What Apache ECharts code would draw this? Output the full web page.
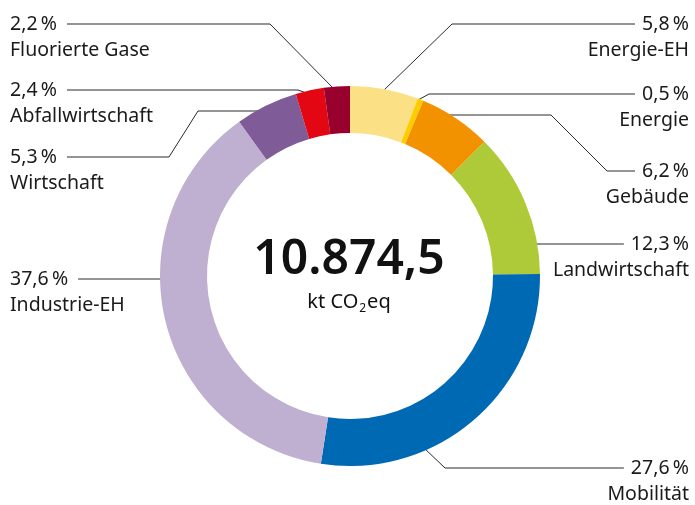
<!DOCTYPE html>
<html><head><meta charset="utf-8">
<script src="https://cdn.jsdelivr.net/npm/echarts@6/dist/echarts.min.js"></script>
<style>html,body{margin:0;padding:0;background:#fff}#c{width:695px;height:505px}</style>
</head><body><div id="c"></div>
<script>
// ---- data ----
const categories = ['Energie-EH','Energie','Gebäude','Landwirtschaft','Mobilität','Industrie-EH','Wirtschaft','Abfallwirtschaft','Fluorierte Gase'];
const shares = [5.8, 0.5, 6.2, 12.3, 27.6, 37.6, 5.3, 2.4, 2.2];
const totalText = '10.874,5';
const unitParts = ['kt CO', '2', 'eq'];

// ---- styles / layout ----
const colors = ['#FCE086','#FFCC00','#F39200','#AFCA38','#0069B4','#BFAFD0','#7F5B98','#E30613','#98002E'];
const FONT = '"Noto Sans", "DejaVu Sans", sans-serif';
const FS = 19.5;
const LINE_GAP = 26.5;
const labelSide = ['right','right','right','right','right','left','left','left','left'];
const labelLineY = [24, 94, 171, 244, 468, 279, 157, 90, 24];
const leaderPaths = [
  [[383,91],[452,24],[633,24]],
  [[418,100],[429,94],[633,94]],
  [[440,115],[551,115],[607,171],[630,171]],
  [[532,244],[625,244]],
  [[423,447],[445,468],[613,468]],
  [[165,279],[83,279]],
  [[265,111],[198,111],[169,157],[72,157]],
  [[312,95],[298,90],[72,90]],
  [[335,90],[270,24],[72,24]]
];
const LEFT_X = 10, RIGHT_X = 689;

const fmt = v => v.toFixed(1).replace('.', ',') + '\u2009%';
const ctx = document.createElement('canvas').getContext('2d');
ctx.font = FS + 'px ' + FONT;

const labelGraphics = [];
categories.forEach((name, i) => {
  const side = labelSide[i];
  const x = side === 'left' ? LEFT_X : RIGHT_X;
  const pct = fmt(shares[i]);
  const w = ctx.measureText(pct).width;
  const pts = leaderPaths[i].map(p => p.slice());
  pts[pts.length - 1][0] = side === 'left' ? LEFT_X + w + 10 : RIGHT_X - w - 7;
  labelGraphics.push(
    {type: 'polyline', shape: {points: pts}, style: {stroke: '#2a2a2a', lineWidth: 1, fill: null}, silent: true},
    {type: 'text', x: x, y: labelLineY[i], style: {text: pct, font: FS + 'px ' + FONT, fill: '#1a1a1a', align: side, verticalAlign: 'middle'}, silent: true},
    {type: 'text', x: x, y: labelLineY[i] + LINE_GAP, style: {text: name, font: FS + 'px ' + FONT, fill: '#1a1a1a', align: side, verticalAlign: 'middle'}, silent: true}
  );
});

const chart = echarts.init(document.getElementById('c'), null, {renderer: 'canvas'});
chart.setOption({
  animation: false,
  series: [{
    type: 'pie',
    center: [350, 276],
    radius: [143, 190],
    startAngle: 90,
    clockwise: true,
    avoidLabelOverlap: false,
    itemStyle: {borderWidth: 0},
    emphasis: {disabled: true},
    label: {show: false},
    labelLine: {show: false},
    data: categories.map((n, i) => ({name: n, value: shares[i], itemStyle: {color: colors[i]}}))
  }],
  graphic: labelGraphics.concat([
    {type: 'text', x: 349, y: 260, style: {text: totalText, font: '600 48px ' + FONT, fill: '#111', align: 'center', verticalAlign: 'middle'}},
    {type: 'text', x: 349, y: 302, style: {
      text: '{a|' + unitParts[0] + '}{s|' + unitParts[1] + '}{a|' + unitParts[2] + '}',
      align: 'center', verticalAlign: 'middle',
      rich: {
        a: {fontSize: 20, fontFamily: FONT, fill: '#111', lineHeight: 26},
        s: {fontSize: 12, fontFamily: FONT, fill: '#111', lineHeight: 26, padding: [14, 1, 0, 1]}
      }
    }}
  ])
});
</script></body></html>
